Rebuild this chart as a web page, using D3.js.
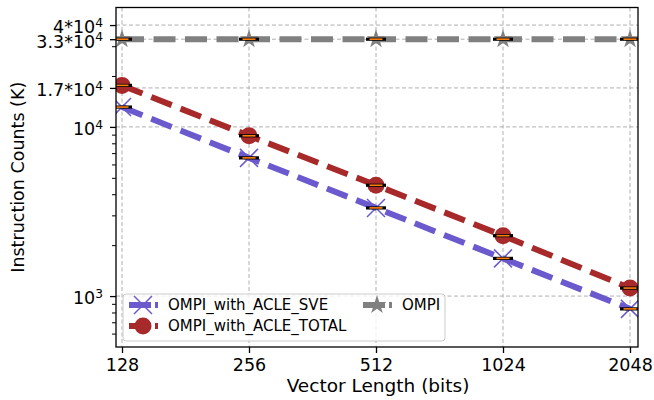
<!DOCTYPE html>
<html>
<head>
<meta charset="utf-8">
<script src="https://cdn.jsdelivr.net/npm/d3@7/dist/d3.min.js"></script>
<style>
  body { margin: 0; background: white; }
  svg { display: block; font-family: 'DejaVu Sans', sans-serif; }
</style>
</head>
<body>
<svg id="chart" width="654" height="400"></svg>
<script>
// data
var vector_lengths = [128, 256, 512, 1024, 2048];
var sve_counts   = [13100, 6560, 3320, 1670, 840];
var total_counts = [17600, 8860, 4520, 2275, 1115];
var ompi_counts  = [33000, 33000, 33000, 33000, 33000];
var y_major = [1000, 10000, 17000, 33000, 40000];
var y_major_labels = [['10', '3'], ['10', '4'], ['1.7*10', '4'], ['3.3*10', '4'], ['4*10', '4']];
var y_minor = [600, 700, 800, 900, 2000, 3000, 4000, 5000, 6000, 7000, 8000, 9000, 20000, 30000];

var series = [
    {name: 'OMPI_with_ACLE_SVE', values: sve_counts, color: '#6a5acd', marker: 'x'},
    {name: 'OMPI_with_ACLE_TOTAL', values: total_counts, color: '#a8292a', marker: 'o'},
    {name: 'OMPI', values: ompi_counts, color: '#808080', marker: '*'}
];

var plot = {left: 116, right: 638, top: 7.5, bottom: 347};
var font_tick = 17.5;
var svg = d3.select('#chart');

var x = d3.scaleLog().base(2)
    .domain([128, 2048])
    .range([122, 630]);
var y = d3.scaleLog()
    .domain([500, 50800])
    .range([plot.bottom, plot.top]);

svg.append('defs').append('clipPath').attr('id', 'clip')
    .append('rect')
    .attr('x', plot.left).attr('y', plot.top)
    .attr('width', plot.right - plot.left)
    .attr('height', plot.bottom - plot.top);

// grid
var grid = svg.append('g');
y_major.forEach(function(v) {
    grid.append('line')
        .attr('x1', plot.left).attr('x2', plot.right)
        .attr('y1', y(v)).attr('y2', y(v))
        .attr('stroke', '#b0b0b0').attr('stroke-width', 1)
        .attr('stroke-dasharray', '4,2.5');
});
vector_lengths.forEach(function(v) {
    grid.append('line')
        .attr('x1', x(v)).attr('x2', x(v))
        .attr('y1', plot.top).attr('y2', plot.bottom)
        .attr('stroke', '#b0b0b0').attr('stroke-width', 1)
        .attr('stroke-dasharray', '4,2.5');
});

var g_data = svg.append('g').attr('clip-path', 'url(#clip)');

// dashed lines
var line = d3.line()
    .x(function(d, i) { return x(vector_lengths[i]); })
    .y(function(d) { return y(d); });
series.slice().reverse().forEach(function(s) {
    g_data.append('path')
        .datum(s.values)
        .attr('d', line)
        .attr('fill', 'none')
        .attr('stroke', s.color)
        .attr('stroke-width', 6)
        .attr('stroke-dasharray', '22,9.5');
});

function draw_marker(g, kind, cx, cy, color) {
    if (kind == 'x') {
        var r = 9;
        g.append('path')
            .attr('d', 'M' + (cx - r) + ',' + (cy - r) + 'L' + (cx + r) + ',' + (cy + r) +
                       'M' + (cx - r) + ',' + (cy + r) + 'L' + (cx + r) + ',' + (cy - r))
            .attr('stroke', color).attr('stroke-width', 1.5).attr('fill', 'none');
    } else if (kind == 'o') {
        g.append('circle')
            .attr('cx', cx).attr('cy', cy).attr('r', 8.5)
            .attr('fill', color);
    } else {
        g.append('path')
            .attr('d', d3.symbol().type(d3.symbolStar).size(110)())
            .attr('transform', 'translate(' + cx + ',' + cy + ')')
            .attr('fill', color);
    }
}

// markers
series.forEach(function(s) {
    s.values.forEach(function(v, i) {
        draw_marker(g_data, s.marker, x(vector_lengths[i]), y(v), s.color);
    });
});

// flat boxplots: black box edge with orange median
series.forEach(function(s) {
    s.values.forEach(function(v, i) {
        var cx = x(vector_lengths[i]), cy = y(v);
        g_data.append('rect')
            .attr('x', cx - 10).attr('y', cy - 1.6)
            .attr('width', 20).attr('height', 3.2)
            .attr('fill', 'black');
        g_data.append('rect')
            .attr('x', cx - 6.5).attr('y', cy - 0.8)
            .attr('width', 13).attr('height', 1.6)
            .attr('fill', '#ff7f0e');
    });
});

// frame
svg.append('rect')
    .attr('x', plot.left).attr('y', plot.top)
    .attr('width', plot.right - plot.left)
    .attr('height', plot.bottom - plot.top)
    .attr('fill', 'none').attr('stroke', 'black').attr('stroke-width', 1.3);

// x axis
var x_axis = svg.append('g')
    .attr('transform', 'translate(0,' + plot.bottom + ')')
    .call(d3.axisBottom(x).tickValues(vector_lengths).tickFormat(d3.format('d'))
        .tickSize(6).tickPadding(6));
x_axis.select('.domain').remove();
x_axis.selectAll('line').attr('stroke-width', 1.3);
x_axis.selectAll('text')
    .attr('font-size', font_tick)
    .attr('font-family', 'DejaVu Sans')
    .attr('fill', 'black');

// y axis, major ticks
var y_axis = svg.append('g')
    .attr('transform', 'translate(' + plot.left + ',0)')
    .call(d3.axisLeft(y).tickValues(y_major).tickFormat('').tickSize(6).tickPadding(7));
y_axis.select('.domain').remove();
y_axis.selectAll('line').attr('stroke-width', 1.3);
y_axis.selectAll('.tick').each(function(d, i) {
    var t = d3.select(this).append('text')
        .attr('x', -13)
        .attr('dy', '0.45em')
        .attr('text-anchor', 'end')
        .attr('font-size', font_tick)
        .attr('font-family', 'DejaVu Sans')
        .attr('fill', 'black');
    t.append('tspan').text(y_major_labels[i][0]);
    t.append('tspan')
        .attr('dy', '-0.55em')
        .attr('font-size', font_tick * 0.7)
        .text(y_major_labels[i][1]);
});

// y axis, minor ticks
svg.append('g')
    .attr('transform', 'translate(' + plot.left + ',0)')
    .call(d3.axisLeft(y).tickValues(y_minor).tickFormat('').tickSize(4))
    .call(function(g) { g.select('.domain').remove(); })
    .selectAll('line').attr('stroke-width', 1);

// axis titles
svg.append('text')
    .attr('x', (plot.left + plot.right) / 2 + 1)
    .attr('y', 392)
    .attr('text-anchor', 'middle')
    .attr('font-size', 18.5)
    .text('Vector Length (bits)');
svg.append('text')
    .attr('transform', 'translate(18,' + (plot.top + plot.bottom) / 2 + ') rotate(-90)')
    .attr('text-anchor', 'middle')
    .attr('dominant-baseline', 'central')
    .attr('font-size', font_tick)
    .text('Instruction Counts (K)');

// legend
var legend = svg.append('g');
legend.append('rect')
    .attr('x', 123).attr('y', 294)
    .attr('width', 322).attr('height', 47)
    .attr('rx', 3)
    .attr('fill', 'white').attr('fill-opacity', 0.8)
    .attr('stroke', '#cccccc').attr('stroke-width', 1);
var legend_pos = [{x: 129, y: 305}, {x: 129, y: 326}, {x: 363, y: 305}];
series.forEach(function(s, i) {
    var p = legend_pos[i];
    legend.append('line')
        .attr('x1', p.x).attr('x2', p.x + 29)
        .attr('y1', p.y).attr('y2', p.y)
        .attr('stroke', s.color).attr('stroke-width', 6)
        .attr('stroke-dasharray', '22,4,3,50');
    draw_marker(legend, s.marker, p.x + 14, p.y, s.color);
    legend.append('text')
        .attr('x', p.x + 39)
        .attr('y', p.y)
        .attr('dy', '0.36em')
        .attr('font-size', 15)
        .text(s.name);
});
</script>
</body>
</html>
